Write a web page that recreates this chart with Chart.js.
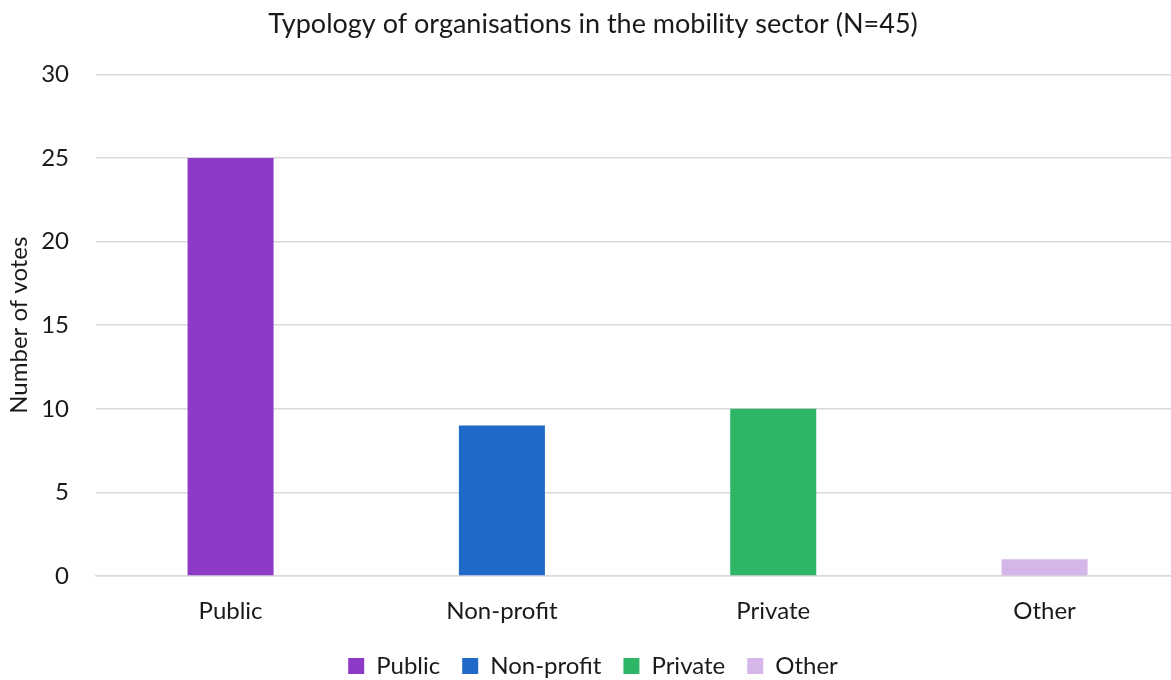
<!DOCTYPE html>
<html>
<head>
<meta charset="utf-8">
<script src="https://cdn.jsdelivr.net/npm/chart.js@4"></script>
<style>
  html, body { margin: 0; padding: 0; background: #fff; }
  #wrap { width: 1171px; height: 680px; overflow: hidden; }
</style>
</head>
<body>
<div id="wrap"><canvas id="chart" width="1171" height="680"></canvas></div>
<script>
// Survey answers per organisation type
const categories = ['Public', 'Non-profit', 'Private', 'Other'];
const votes = [25, 9, 10, 1];
const barColors = ['#8E3AC8', '#1F69C9', '#2FB566', '#D5B6E8'];
const yTicks = [0, 5, 10, 15, 20, 25, 30];
// category slots run past the right edge, so use a numeric x range
const xRange = [-0.496, 3.466];

const FONT = 'Lato, Carlito, Calibri, sans-serif';
const ink = '#1a1a1a';

const ctx = document.getElementById('chart').getContext('2d');
new Chart(ctx, {
    type: 'bar',
    data: {
        datasets: [{
            label: 'Votes',
            data: votes.map((v, i) => ({ x: i, y: v })),
            backgroundColor: barColors,
            borderWidth: 0,
            barPercentage: 0.317,
            categoryPercentage: 1
        }]
    },
    options: {
        responsive: false,
        animation: false,
        // legend sits low against the bottom edge
        layout: { padding: { left: 5, right: -10, top: 8, bottom: -8 } },
        scales: {
            y: {
                min: 0, max: 30,
                afterBuildTicks: (axis) => { axis.ticks = yTicks.map(v => ({ value: v })); },
                afterFit: (axis) => { axis.width = 91; },
                grid: { color: '#d9d9d9', lineWidth: 1.5, drawTicks: false },
                border: { display: false },
                ticks: { color: ink, font: { family: FONT, size: 24 }, padding: 27 },
                title: {
                    display: true,
                    text: 'Number of votes',
                    color: ink,
                    font: { family: FONT, size: 24 },
                    padding: { top: 0, bottom: 0 }
                }
            },
            x: {
                type: 'linear',
                offset: false,
                min: xRange[0],
                max: xRange[1],
                afterBuildTicks: (axis) => { axis.ticks = categories.map((c, i) => ({ value: i })); },
                afterFit: (axis) => { axis.height = 56; },
                grid: { display: false, drawTicks: false },
                border: { color: '#d9d9d9', width: 1.5 },
                ticks: {
                    color: ink,
                    font: { family: FONT, size: 24 },
                    padding: 21,
                    maxRotation: 0,
                    callback: (v) => categories[v]
                }
            }
        },
        plugins: {
            title: {
                display: true,
                text: 'Typology of organisations in the mobility sector (N=45)',
                color: ink,
                font: { family: FONT, size: 27, weight: 'normal' },
                padding: { top: 0, bottom: 34 }
            },
            legend: {
                position: 'bottom',
                labels: {
                    color: ink,
                    font: { family: FONT, size: 24 },
                    boxWidth: 16,
                    boxHeight: 16,
                    padding: 22,
                    generateLabels: (chart) => categories.map((c, i) => ({
                        text: c,
                        fillStyle: barColors[i],
                        strokeStyle: barColors[i],
                        lineWidth: 0,
                        fontColor: ink,
                        index: i
                    }))
                }
            },
            tooltip: { enabled: false }
        }
    }
});
</script>
</body>
</html>
